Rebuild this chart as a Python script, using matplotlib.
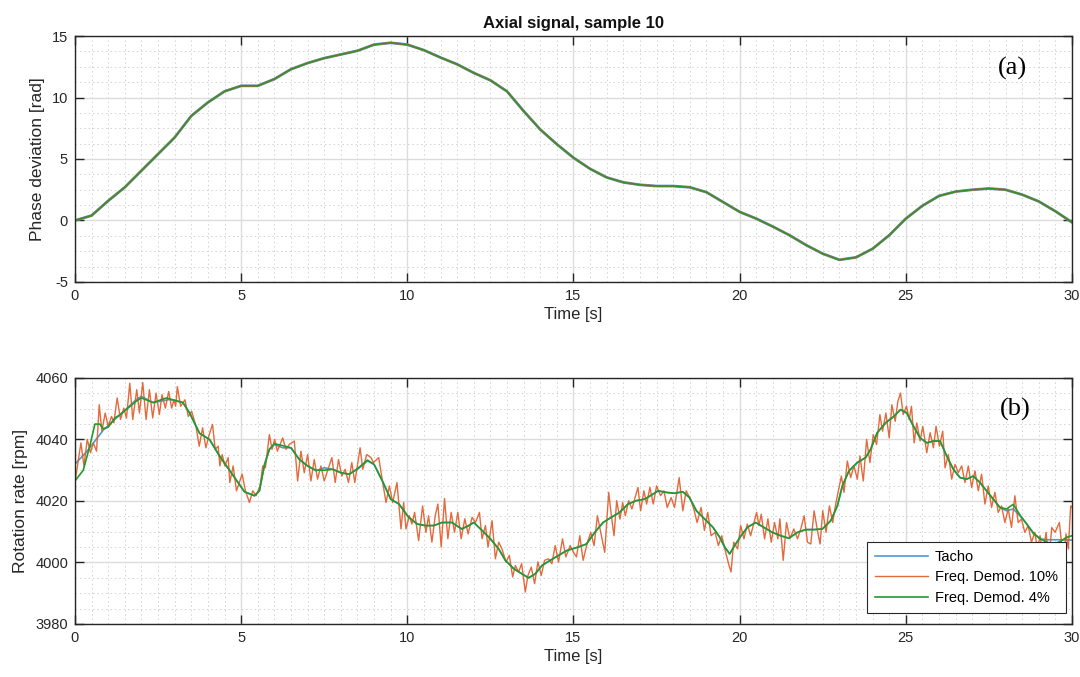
import matplotlib
matplotlib.use("Agg")
import matplotlib.pyplot as plt
from matplotlib.ticker import MultipleLocator

# ---------------- data ----------------
t_phase = [0, 0.5, 1, 1.5, 2, 2.5, 3, 3.5, 4, 4.5, 5, 5.5, 6, 6.5, 7, 7.5, 8, 8.5, 9, 9.5,
           10, 10.5, 11, 11.5, 12, 12.5, 13, 13.5, 14, 14.5, 15, 15.5, 16, 16.5, 17, 17.5,
           18, 18.5, 19, 19.5, 20, 20.5, 21, 21.5, 22, 22.5, 23, 23.5, 24, 24.5, 25, 25.5,
           26, 26.5, 27, 27.5, 28, 28.5, 29, 29.5, 30]
phase = [0.0, 0.4, 1.6, 2.7, 4.05, 5.4, 6.75, 8.5, 9.6, 10.5, 10.95, 10.95, 11.5, 12.3, 12.8,
         13.2, 13.5, 13.8, 14.3, 14.45, 14.3, 13.85, 13.25, 12.7, 12.0, 11.4, 10.5, 8.9, 7.4,
         6.2, 5.1, 4.2, 3.5, 3.1, 2.9, 2.8, 2.8, 2.7, 2.3, 1.5, 0.7, 0.15, -0.5, -1.2, -2.0,
         -2.7, -3.2, -3.0, -2.3, -1.2, 0.15, 1.2, 2.0, 2.35, 2.5, 2.6, 2.5, 2.1, 1.55, 0.75, -0.15]

t_tacho = [0.00, 0.35, 0.85, 1.35, 1.85, 2.00, 2.35, 2.85, 3.25, 3.45, 3.75, 4.05, 4.35, 4.65,
           5.10, 5.40, 5.55, 5.70, 5.85, 6.00, 6.25, 6.50, 6.75, 7.00, 7.25, 7.50, 7.75, 8.00,
           8.25, 8.50, 8.80, 9.00, 9.25, 9.50, 9.75, 10.04, 10.30, 10.54, 10.80, 11.04, 11.34,
           11.64, 11.85, 12.00, 12.25, 12.50, 12.75, 12.95, 13.20, 13.45, 13.65, 13.85, 14.05,
           14.30, 14.55, 14.80, 15.14, 15.39, 15.64, 15.89, 16.14, 16.39, 16.64, 16.89, 17.14,
           17.39, 17.54, 17.79, 18.04, 18.29, 18.49, 18.70, 18.95, 19.20, 19.40, 19.55, 19.70,
           19.85, 20.03, 20.23, 20.48, 20.73, 20.98, 21.23, 21.48, 21.74, 21.99, 22.24, 22.49,
           22.74, 22.94, 23.09, 23.29, 23.54, 23.79, 23.94, 24.14, 24.39, 24.64, 24.84, 25.03,
           25.23, 25.43, 25.63, 25.83, 26.03, 26.23, 26.43, 26.63, 26.83, 27.03, 27.23, 27.43,
           27.63, 27.83, 28.03, 28.23, 28.43, 28.64, 28.84, 29.04, 29.24, 29.44, 29.64, 29.84, 30.00]
tacho = [4032.0, 4036.0, 4043.0, 4048.0, 4053.0, 4054.0, 4052.0, 4053.0, 4052.0, 4048.6, 4042.0,
         4040.0, 4034.6, 4030.0, 4023.0, 4021.7, 4023.3, 4031.9, 4036.8, 4038.4, 4037.3, 4037.3,
         4033.5, 4031.4, 4029.8, 4030.8, 4030.3, 4029.2, 4028.7, 4030.3, 4033.0, 4031.9, 4026.5,
         4020.6, 4019.0, 4014.7, 4012.5, 4012.0, 4012.0, 4013.0, 4013.0, 4010.9, 4012.0, 4013.0,
         4010.4, 4007.7, 4004.4, 4000.7, 3998.0, 3996.3, 3995.0, 3996.3, 3999.0, 4000.7, 4002.3,
         4003.9, 4005.0, 4006.0, 4009.8, 4013.0, 4014.7, 4016.3, 4019.0, 4020.1, 4020.6, 4022.2,
         4023.3, 4022.8, 4022.5, 4023.0, 4021.1, 4016.8, 4014.1, 4011.4, 4008.2, 4005.0, 4002.8,
         4005.5, 4008.5, 4011.4, 4013.0, 4011.4, 4009.8, 4008.7, 4007.9, 4009.8, 4010.7, 4010.7,
         4010.9, 4013.6, 4018.4, 4024.9, 4029.8, 4032.5, 4034.1, 4036.8, 4042.2, 4045.4, 4047.5,
         4049.7, 4048.6, 4044.3, 4040.5, 4038.9, 4039.5, 4039.5, 4034.6, 4030.3, 4027.6, 4027.1,
         4028.1, 4026.0, 4023.3, 4020.6, 4017.9, 4016.8, 4017.4, 4015.2, 4012.5, 4009.3, 4007.7,
         4007.4, 4007.4, 4007.4, 4007.3, 4007.3]

t_demod4 = [0.00, 0.25, 0.45, 0.60, 0.75, 0.85, 1.00, 1.20, 1.35, 1.85, 2.00, 2.35, 2.75, 3.25,
            3.45, 3.75, 4.05, 4.35, 4.65, 5.10, 5.40, 5.55, 5.70, 5.85, 6.00, 6.25, 6.50, 6.75,
            7.00, 7.25, 7.50, 7.75, 8.00, 8.25, 8.50, 8.80, 9.00, 9.25, 9.50, 9.75, 10.04, 10.30,
            10.54, 10.80, 11.04, 11.34, 11.64, 11.85, 12.00, 12.25, 12.50, 12.75, 12.95, 13.20,
            13.45, 13.65, 13.85, 14.05, 14.30, 14.55, 14.80, 15.14, 15.39, 15.64, 15.89, 16.14,
            16.39, 16.64, 16.89, 17.14, 17.39, 17.54, 17.79, 18.04, 18.29, 18.49, 18.70, 18.95,
            19.20, 19.40, 19.55, 19.70, 19.85, 20.03, 20.23, 20.48, 20.73, 20.98, 21.23, 21.48,
            21.74, 21.99, 22.24, 22.49, 22.74, 22.94, 23.09, 23.29, 23.54, 23.79, 23.94, 24.14,
            24.39, 24.64, 24.84, 25.03, 25.23, 25.43, 25.63, 25.83, 26.03, 26.23, 26.43, 26.63,
            26.83, 27.03, 27.23, 27.43, 27.63, 27.83, 28.03, 28.23, 28.43, 28.64, 28.84, 29.04,
            29.24, 29.44, 29.64, 29.84, 30.00]
demod4 = [4026.5, 4030.0, 4038.0, 4045.0, 4045.0, 4043.5, 4044.0, 4047.0, 4048.0, 4052.5, 4053.5,
          4052.0, 4053.5, 4052.0, 4048.6, 4042.0, 4040.0, 4034.6, 4030.0, 4023.0, 4021.7, 4023.3,
          4031.5, 4036.8, 4038.6, 4038.0, 4037.3, 4033.5, 4031.4, 4030.0, 4030.0, 4030.3, 4029.2,
          4028.7, 4030.5, 4033.3, 4031.9, 4026.5, 4020.6, 4019.0, 4014.7, 4012.5, 4012.0, 4012.0,
          4013.0, 4013.0, 4010.9, 4012.0, 4013.0, 4010.4, 4007.7, 4004.4, 4000.7, 3998.0, 3996.3,
          3995.0, 3996.3, 3999.0, 4000.7, 4002.3, 4003.9, 4005.0, 4006.0, 4009.8, 4013.0, 4014.7,
          4016.3, 4019.0, 4020.1, 4020.6, 4022.2, 4023.3, 4022.8, 4022.5, 4023.0, 4021.1, 4016.8,
          4014.1, 4011.4, 4008.2, 4005.0, 4002.8, 4005.5, 4008.5, 4011.4, 4013.0, 4011.4, 4009.8,
          4008.7, 4007.9, 4009.8, 4010.7, 4010.7, 4010.9, 4013.6, 4018.4, 4024.9, 4029.8, 4032.5,
          4034.1, 4036.8, 4042.2, 4045.4, 4047.5, 4049.7, 4048.6, 4044.3, 4040.5, 4038.9, 4039.5,
          4039.5, 4034.6, 4030.3, 4027.6, 4027.1, 4028.1, 4026.0, 4023.3, 4020.6, 4017.9, 4017.4,
          4018.9, 4015.5, 4012.5, 4009.6, 4007.7, 4006.6, 4006.0, 4006.8, 4008.2, 4008.7]

t_demod10 = [0.00, 0.18, 0.27, 0.37, 0.47, 0.55, 0.65, 0.73, 0.81, 0.91, 1.00, 1.10, 1.17, 1.27,
             1.37, 1.47, 1.55, 1.65, 1.74, 1.86, 1.94, 2.04, 2.14, 2.24, 2.34, 2.44, 2.54, 2.62,
             2.72, 2.82, 2.91, 2.98, 3.03, 3.08, 3.18, 3.31, 3.41, 3.51, 3.64, 3.74, 3.84, 3.94,
             4.04, 4.14, 4.22, 4.31, 4.36, 4.43, 4.51, 4.61, 4.66, 4.76, 4.86,
             5.03, 5.13, 5.25, 5.35, 5.45, 5.57, 5.65, 5.73, 5.85, 5.93, 6.01, 6.09, 6.25, 6.35,
             6.45, 6.60, 6.70, 6.80, 6.90, 7.00, 7.10, 7.20, 7.30, 7.40, 7.50, 7.73, 7.83, 7.93,
             8.03, 8.13, 8.23, 8.33, 8.42, 8.58, 8.66, 8.78, 8.91, 8.98, 9.14, 9.26, 9.36, 9.46,
             9.56, 9.69, 9.81, 9.89, 9.96,
             10.06, 10.14, 10.22, 10.34, 10.46, 10.56, 10.64, 10.74, 10.84, 10.92, 11.02, 11.12,
             11.22, 11.32, 11.42, 11.52, 11.62, 11.73, 11.83, 11.95, 12.05, 12.17, 12.25, 12.35,
             12.43, 12.55, 12.65, 12.75, 12.85, 12.97, 13.07, 13.17, 13.25, 13.35, 13.44, 13.55,
             13.63, 13.73, 13.83, 13.93, 14.03, 14.13, 14.25, 14.35, 14.45, 14.55, 14.67, 14.77,
             14.90, 15.00,
             15.09, 15.19, 15.29, 15.42, 15.52, 15.62, 15.72, 15.82, 15.94, 16.06, 16.14, 16.22,
             16.30, 16.40, 16.48, 16.56, 16.66, 16.76, 16.84, 16.94, 17.02, 17.12, 17.20, 17.30,
             17.40, 17.50, 17.62, 17.72, 17.82, 17.94, 18.04, 18.18, 18.29, 18.39, 18.52, 18.62,
             18.72, 18.84, 18.94, 19.04, 19.14, 19.26, 19.36, 19.46, 19.58, 19.68, 19.74, 19.82,
             19.94,
             20.03, 20.13, 20.23, 20.33, 20.43, 20.51, 20.58, 20.65, 20.75, 20.85, 20.95, 21.05,
             21.15, 21.21, 21.31, 21.41, 21.51, 21.63, 21.74, 21.84, 21.94, 22.04, 22.14, 22.24,
             22.34, 22.42, 22.50, 22.60, 22.70, 22.80, 22.89, 23.06, 23.14, 23.24, 23.34, 23.44,
             23.54, 23.62, 23.72, 23.82, 23.92, 24.02, 24.12, 24.22, 24.30, 24.40, 24.50, 24.58,
             24.68, 24.76, 24.84, 24.92, 25.02,
             25.10, 25.17, 25.25, 25.33, 25.43, 25.51, 25.63, 25.73, 25.83, 25.91, 26.01, 26.11,
             26.18, 26.28, 26.38, 26.48, 26.58, 26.68, 26.78, 26.88, 26.98, 27.08, 27.18, 27.28,
             27.38, 27.48, 27.58, 27.68, 27.78, 27.88, 27.98, 28.08, 28.18, 28.28, 28.38, 28.48,
             28.58, 28.68, 28.78, 28.88, 28.96, 29.04, 29.12, 29.22, 29.30, 29.39, 29.49, 29.62,
             29.74, 29.82, 29.89, 29.96, 30.00]
demod10 = [4026.0, 4038.9, 4031.4, 4040.0, 4035.7, 4038.9, 4036.2, 4051.3, 4042.7, 4048.6, 4044.3,
           4047.5, 4045.4, 4053.5, 4046.5, 4050.2, 4047.0, 4058.3, 4046.5, 4056.2, 4048.6, 4058.5,
           4046.5, 4056.2, 4047.0, 4055.1, 4048.1, 4054.6, 4050.2, 4055.6, 4050.2, 4052.9, 4050.8,
           4057.2, 4050.8, 4052.9, 4047.5, 4049.2, 4044.3, 4037.8, 4043.8, 4037.3, 4041.6, 4044.9,
           4036.8, 4037.8, 4031.4, 4035.1, 4031.4, 4034.1, 4026.0, 4031.4, 4023.3,
           4028.7, 4023.3, 4019.5, 4023.3, 4021.7, 4024.9, 4031.4, 4030.8, 4041.6, 4036.8, 4040.0,
           4036.2, 4040.5, 4036.8, 4038.4, 4039.5, 4026.5, 4036.2, 4029.2, 4035.1, 4026.5, 4033.5,
           4027.1, 4031.4, 4026.5, 4034.1, 4026.0, 4033.5, 4028.1, 4030.3, 4026.0, 4032.5, 4026.0,
           4037.3, 4030.3, 4035.1, 4034.1, 4032.5, 4034.1, 4026.0, 4019.5, 4024.9, 4019.5, 4026.0,
           4010.9, 4019.5, 4010.9,
           4015.2, 4012.5, 4016.3, 4007.1, 4018.4, 4009.8, 4015.2, 4006.6, 4015.2, 4019.0, 4005.0,
           4020.8, 4007.7, 4016.3, 4009.8, 4016.3, 4007.7, 4014.2, 4009.3, 4014.7, 4013.0, 4016.3,
           4007.7, 4012.0, 4005.0, 4013.6, 4001.2, 4006.6, 4004.4, 4000.1, 4002.3, 3995.3, 3999.0,
           3996.9, 3999.6, 3990.4, 3995.8, 3998.5, 3993.1, 4000.2, 3995.8, 4000.7, 4001.2, 3999.6,
           4005.5, 4000.1, 4007.7, 4001.8, 4005.5, 4003.3,
           4001.8, 4008.7, 4000.7, 4006.6, 4009.8, 4005.5, 4015.2, 4009.8, 4003.3, 4022.8, 4015.2,
           4008.7, 4020.1, 4014.1, 4019.5, 4015.2, 4020.1, 4017.4, 4020.6, 4024.4, 4016.8, 4023.3,
           4019.0, 4024.4, 4019.0, 4024.9, 4021.7, 4023.3, 4017.9, 4021.1, 4017.9, 4027.6, 4016.8,
           4023.3, 4020.6, 4017.4, 4013.0, 4017.9, 4010.4, 4016.3, 4008.7, 4009.8, 4005.5, 4008.7,
           4003.3, 3999.0, 3996.9, 4006.6, 4004.4,
           4012.0, 4007.7, 4012.5, 4008.7, 4013.0, 4016.3, 4012.0, 4015.7, 4007.7, 4014.2, 4006.6,
           4013.0, 4007.7, 4014.2, 4000.7, 4013.0, 4007.7, 4010.9, 4007.7, 4010.9, 4015.2, 4006.6,
           4006.0, 4016.8, 4010.4, 4006.0, 4016.8, 4009.8, 4018.4, 4013.0, 4019.0, 4028.1, 4022.8,
           4033.0, 4027.6, 4031.4, 4027.1, 4034.6, 4026.5, 4040.0, 4032.5, 4041.6, 4038.4, 4048.1,
           4042.7, 4048.6, 4040.5, 4051.3, 4045.9, 4052.4, 4055.1, 4048.1, 4050.8,
           4046.5, 4050.8, 4038.9, 4045.4, 4039.5, 4044.3, 4035.7, 4042.2, 4037.3, 4044.3, 4037.8,
           4042.7, 4030.8, 4035.1, 4027.1, 4031.9, 4029.2, 4031.4, 4026.0, 4031.4, 4024.4, 4029.8,
           4023.3, 4028.7, 4019.0, 4024.9, 4017.9, 4022.8, 4016.3, 4018.4, 4013.0, 4017.4, 4011.4,
           4021.7, 4013.0, 4014.1, 4009.8, 4012.0, 4006.6, 4009.8, 4004.4, 4008.7, 4002.3, 4009.8,
           4000.1, 4011.4, 4009.8, 4013.0, 4000.7, 4009.3, 4004.4, 4018.4, 4017.9]

legend_labels = ["Tacho", "Freq. Demod. 10%", "Freq. Demod. 4%"]
c_blue, c_orange, c_green = "#4b9bd5", "#e05a28", "#23992c"

# ---------------- figure ----------------
plt.rcParams["font.family"] = ["Liberation Sans", "DejaVu Sans"]
plt.rcParams["axes.unicode_minus"] = False
fig = plt.figure(figsize=(10.8, 6.77), dpi=100)
ax1 = fig.add_axes([0.0694, 0.5835, 0.9232, 0.3633])
ax2 = fig.add_axes([0.0694, 0.0783, 0.9232, 0.3634])

axis_col = "#262626"

def style(ax, ymin, ymax, ymaj, ymin_step):
    ax.set_xlim(0, 30)
    ax.set_ylim(ymin, ymax)
    ax.xaxis.set_major_locator(MultipleLocator(5))
    ax.xaxis.set_minor_locator(MultipleLocator(0.5))
    ax.yaxis.set_major_locator(MultipleLocator(ymaj))
    ax.yaxis.set_minor_locator(MultipleLocator(ymin_step))
    ax.grid(which="major", color="#dcdcdc", linewidth=1.0, linestyle="-")
    ax.grid(which="minor", color="#d2d2d2", linewidth=0.7, linestyle=(0, (1.5, 3)))
    ax.set_axisbelow(True)
    ax.tick_params(which="major", direction="in", length=6.5, width=1.0, colors=axis_col,
                   top=True, right=True, labelsize=10.5, pad=5)
    ax.tick_params(which="minor", length=0, top=True, right=True)
    for s in ax.spines.values():
        s.set_color(axis_col)
        s.set_linewidth(1.0)
    ax.set_xlabel("Time [s]", fontsize=12, color=axis_col, labelpad=3)

# top
ax1.plot(t_phase, phase, color=c_blue, lw=2.0)
ax1.plot(t_phase, phase, color=c_orange, lw=1.4)
ax1.plot(t_phase, phase, color=c_green, lw=1.0)
style(ax1, -5, 15, 5, 1.25)
ax1.set_ylabel("Phase deviation [rad]", fontsize=12.5, color=axis_col, labelpad=5)
ax1.set_title("Axial signal, sample 10", fontsize=12, fontweight="bold", color="#111111",
              pad=6, family=["Liberation Sans Narrow", "Liberation Sans", "DejaVu Sans"])
ax1.text(0.94, 0.87, "(a)", transform=ax1.transAxes, fontsize=19,
         family=["Liberation Serif", "DejaVu Serif"], ha="center", va="center", color="black")

# bottom
l1, = ax2.plot(t_tacho, tacho, color=c_blue, lw=1.2, label=legend_labels[0])
l2, = ax2.plot(t_demod10, demod10, color=c_orange, lw=1.0, alpha=0.9, label=legend_labels[1])
l3, = ax2.plot(t_demod4, demod4, color=c_green, lw=1.2, label=legend_labels[2])
style(ax2, 3980, 4060, 20, 5)
ax2.set_ylabel("Rotation rate [rpm]", fontsize=12.5, color=axis_col, labelpad=5)
ax2.text(0.943, 0.87, "(b)", transform=ax2.transAxes, fontsize=19,
         family=["Liberation Serif", "DejaVu Serif"], ha="center", va="center", color="black")
leg = ax2.legend(handles=[l1, l2, l3], loc="lower right", bbox_to_anchor=(0.994, 0.045),
                 borderaxespad=0, fontsize=10.5, handlelength=3.6, handletextpad=0.5,
                 labelspacing=0.45, borderpad=0.55, fancybox=False, framealpha=1)
leg.get_frame().set_edgecolor(axis_col)
leg.get_frame().set_linewidth(0.8)

fig.savefig("out.png", dpi=100)
